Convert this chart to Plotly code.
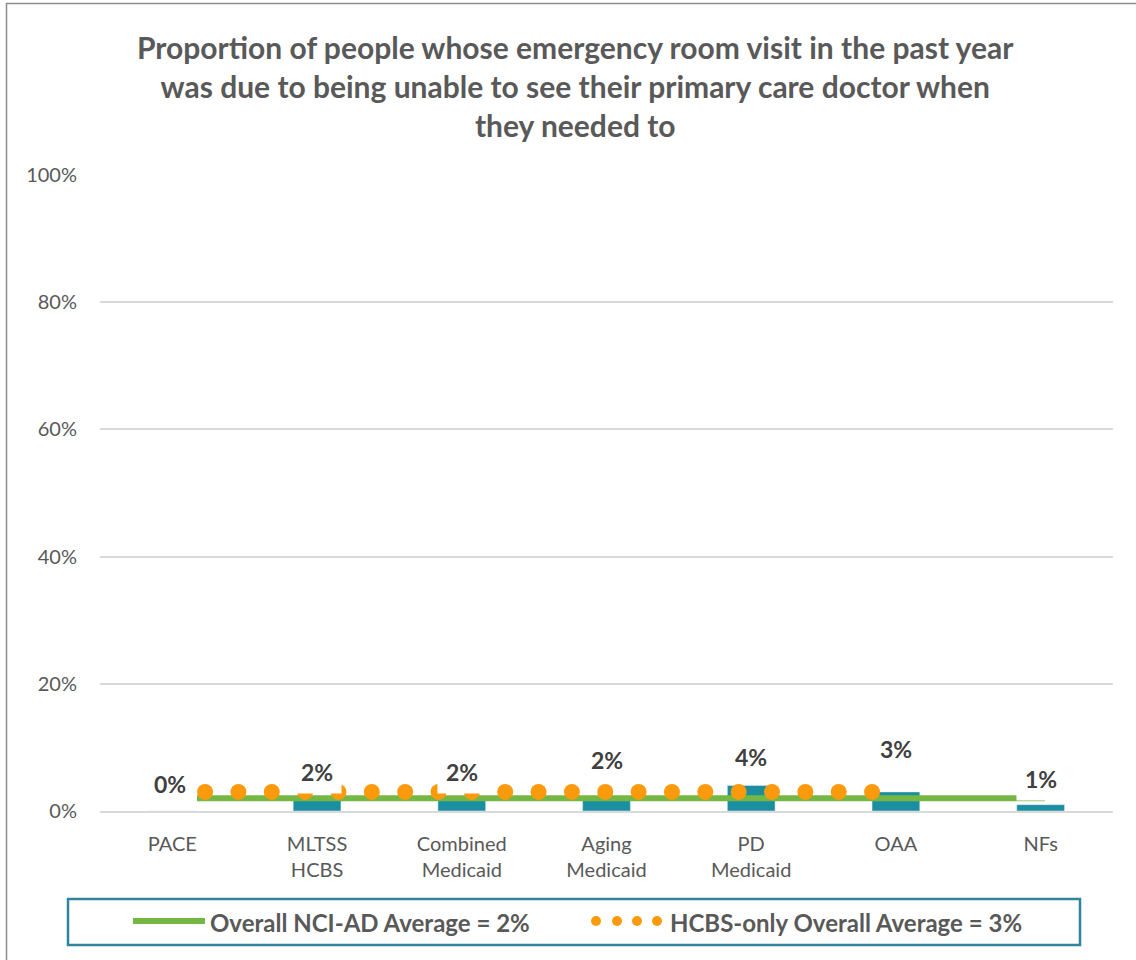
import numpy as np
import plotly.graph_objects as go

# --- data -------------------------------------------------------------
categories = ["PACE", "MLTSS<br>HCBS", "Combined<br>Medicaid", "Aging<br>Medicaid",
              "PD<br>Medicaid", "OAA", "NFs"]
values = [0, 2, 2, 2, 4, 3, 1]
overall_avg = 2
hcbs_avg = 3
legend_labels = ["Overall NCI-AD Average = 2%", "HCBS-only Overall Average = 3%"]
y_ticks = [0, 20, 40, 60, 80, 100]
y_tick_text = ["0%", "20%", "40%", "60%", "80%", "100%"]
title_text = ("Proportion of people whose emergency room visit in the past year<br>"
              "was due to being unable to see their primary care doctor when<br>"
              "they needed to")

# --- styling ----------------------------------------------------------
W, H = 1136, 960
L, R, T, B = 100, 23, 175, 149
PW, PH = W - L - R, H - T - B
BAR = "#1b8fa1"
GREEN = "#74b843"
ORANGE = "#fb9a0c"
TEAL = "#31849b"
GREY_TXT = "#595959"
LABEL_TXT = "#404040"
FONT = "Lato, Carlito, 'Open Sans', sans-serif"

# pixel lift of each value label above its bar top
label_lift = [27, 26, 26, 38, 29, 43, 26]
label_dx = [-2, 0, 0, 0, 0, 0, 0]


def px(xp):
    return (xp - L) / PW


def py(yp):
    return (H - B - yp) / PH


n = len(categories)
xs = np.arange(n)

fig = go.Figure()
fig.add_bar(x=xs, y=values, width=0.33, marker_color=BAR, showlegend=False,
            hoverinfo="skip")

# overall average: solid line across all groups
g0, g1 = 0.17, 6.03
fig.add_scatter(x=[g0, g1], y=[overall_avg, overall_avg], mode="lines",
                line=dict(color=GREEN, width=6), showlegend=False, hoverinfo="skip")

# HCBS-only average: round dotted line over the HCBS groups
dots_x = np.linspace(0.226, 4.835, 21)
fig.add_scatter(x=dots_x, y=[hcbs_avg] * len(dots_x), mode="markers",
                marker=dict(color=ORANGE, size=16, line=dict(width=0)),
                showlegend=False, hoverinfo="skip")

annotations = []
for i, v in enumerate(values):
    annotations.append(dict(
        x=xs[i], y=v, xref="x", yref="y", text=f"<b>{v}%</b>", showarrow=False,
        yshift=label_lift[i], xshift=label_dx[i], yanchor="middle",
        width=46, height=40, bgcolor="white",
        font=dict(family=FONT, size=23, color=LABEL_TXT)))

annotations.append(dict(
    x=px(W / 2 + 7), y=py(86), xref="paper", yref="paper", text=f"<b>{title_text}</b>",
    showarrow=False, xanchor="center", yanchor="middle",
    font=dict(family=FONT, size=30, color=GREY_TXT)))

# legend texts
annotations.append(dict(
    x=px(208), y=py(922), xref="paper", yref="paper", text=f"<b>{legend_labels[0]}</b>",
    showarrow=False, xanchor="left", yanchor="middle",
    font=dict(family=FONT, size=24, color=GREY_TXT)))
annotations.append(dict(
    x=px(668), y=py(922), xref="paper", yref="paper", text=f"<b>{legend_labels[1]}</b>",
    showarrow=False, xanchor="left", yanchor="middle",
    font=dict(family=FONT, size=24, color=GREY_TXT)))

shapes = [
    # outer chart border
    dict(type="rect", xref="paper", yref="paper", x0=px(6.5), x1=px(1145),
         y0=py(3.5), y1=py(975), line=dict(color="#8c8c8c", width=1.5)),
    # legend frame
    dict(type="rect", xref="paper", yref="paper", x0=px(68), x1=px(1080),
         y0=py(899), y1=py(945), line=dict(color=TEAL, width=2.5)),
    # legend line sample
    dict(type="line", xref="paper", yref="paper", x0=px(133), x1=px(205),
         y0=py(921), y1=py(921), line=dict(color=GREEN, width=6)),
]
for cx in [596, 617, 637, 657]:
    r = 5
    shapes.append(dict(type="circle", xref="paper", yref="paper",
                       x0=px(cx - r), x1=px(cx + r), y0=py(921 - r), y1=py(921 + r),
                       fillcolor=ORANGE, line=dict(width=0)))

fig.update_layout(
    width=W, height=H,
    margin=dict(l=L, r=R, t=T, b=B, autoexpand=False),
    paper_bgcolor="white", plot_bgcolor="white",
    bargap=0.67,
    annotations=annotations,
    shapes=shapes,
    showlegend=False,
    xaxis=dict(range=[-0.5, n - 0.5], tickvals=list(xs), ticktext=categories,
               showgrid=False, zeroline=False, showline=True, linecolor="#d9d9d9",
               linewidth=2, ticks="", ticklabelstandoff=14,
               tickfont=dict(family=FONT, size=20, color=GREY_TXT)),
    yaxis=dict(range=[0, 100], tickvals=y_ticks, ticktext=y_tick_text, showgrid=True,
               gridcolor="#d9d9d9", gridwidth=1.5, zeroline=False, ticks="",
               ticklabelstandoff=22,
               tickfont=dict(family=FONT, size=20, color=GREY_TXT)),
)

fig.write_html("out.html")
